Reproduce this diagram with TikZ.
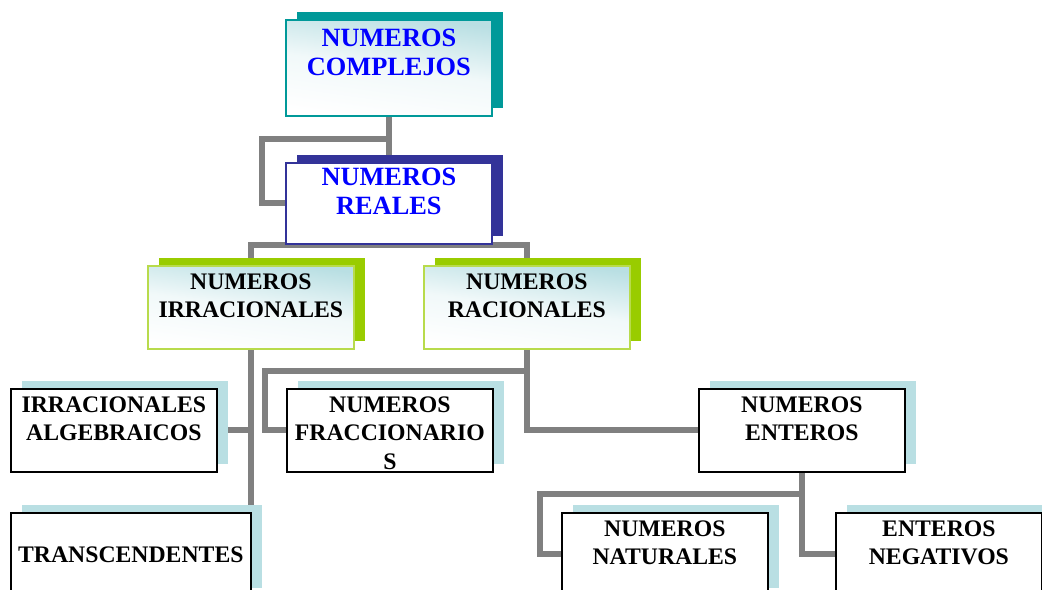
\documentclass[tikz,border=0pt]{standalone}
\usepackage{fontspec}
\setmainfont{Liberation Serif}
\usetikzlibrary{shadows,backgrounds}
\definecolor{tealbox}{HTML}{009999}
\definecolor{navybox}{HTML}{333399}
\definecolor{limebox}{HTML}{99CC00}
\definecolor{paleblue}{HTML}{B9DFE3}
\definecolor{linegray}{HTML}{808080}
\begin{document}
\begin{tikzpicture}[x=0.02cm,y=-0.02cm,
  box/.style={anchor=north west, inner sep=0pt, align=center, text width=4.12cm,
    minimum height=1.66cm, text height=0.48cm, text depth=1.18cm, line width=1pt,
    font=\fontsize{13.5}{16}\selectfont\bfseries},
  backing/.style={general shadow={draw=none, fill=#1, shadow xshift=0.22cm, shadow yshift=0.16cm}},
  fade/.style={top color=paleblue, bottom color=white, middle color=paleblue!20, shading angle=-8},
  bluetext/.style={text=blue, font=\fontsize{15}{16.5}\selectfont\bfseries},
  plainbox/.style={box, draw=black, fill=white, backing=paleblue},
  greenbox/.style={box, draw=limebox!70, fade, backing=limebox},
  topbox/.style={box, bluetext, draw=tealbox, fade, backing=tealbox,
    minimum height=1.92cm, text height=0.54cm, text depth=1.38cm},
  realbox/.style={box, bluetext, draw=navybox, fill=white, backing=navybox,
    minimum height=1.62cm, text height=0.46cm, text depth=1.16cm},
  link/.style={draw=linegray, line width=0.12cm}]
\useasboundingbox (0,0) rectangle (1042,590);
\clip (0,0) rectangle (1042,590);
\node [topbox] (complejos) at (285,19) {NUMEROS\\COMPLEJOS};
\node [realbox] (reales) at (285,162) {NUMEROS\\REALES};
\node [greenbox] (irr) at (147,265) {NUMEROS\\IRRACIONALES};
\node [greenbox] (rac) at (423,265) {NUMEROS\\RACIONALES};
\node [plainbox] (alg) at (10,388) {IRRACIONALES\\ALGEBRAICOS};
\node [plainbox] (frac) at (286,388) {NUMEROS\\FRACCIONARIO\\S};
\node [plainbox, text width=4.8cm, text height=1.0cm, text depth=0.66cm] (trans) at (10,512) {TRANSCENDENTES};
\node [plainbox] (ent) at (698,388) {NUMEROS\\ENTEROS};
\node [plainbox] (nat) at (561,512) {NUMEROS\\NATURALES};
\node [plainbox] (neg) at (835,512) {ENTEROS\\NEGATIVOS};
\begin{scope}[on background layer]
\draw [link] (complejos.south) -- (reales.north);
\draw [link] (complejos.south) -- ++(0,22) -| ([xshift=-0.46cm]reales.west) -- (reales.west);
\draw [link] (irr.north) |- (reales.south) -| (rac.north);
\draw [link] (irr.south) -- (irr.south |- trans.north);
\draw [link] (irr.south |- alg.east) -- (alg.east);
\draw [link] (rac.south) |- (ent.west);
\draw [link] (rac.south) -- ++(0,21) -| ([xshift=-0.42cm]frac.west) -- (frac.west);
\draw [link] (ent.south) |- (neg.west);
\draw [link] (ent.south) -- ++(0,21) -| ([xshift=-0.42cm]nat.west) -- (nat.west);
\end{scope}
\end{tikzpicture}
\end{document}
